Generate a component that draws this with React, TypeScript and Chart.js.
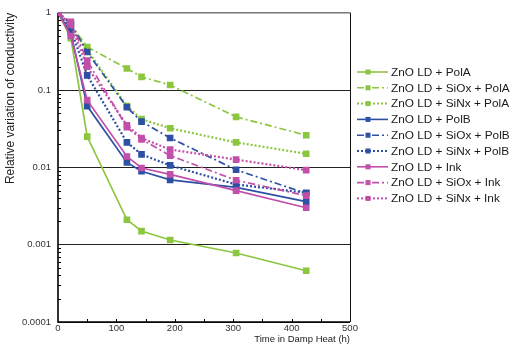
import React, { useEffect, useRef } from "react";
import { Chart, registerables } from "chart.js";

Chart.register(...registerables);

const hours = [0, 22, 50, 118, 143, 192, 305, 425];

const seriesNames = [
  "ZnO LD + PolA",
  "ZnO LD + SiOx + PolA",
  "ZnO LD + SiNx + PolA",
  "ZnO LD + PolB",
  "ZnO LD + SiOx + PolB",
  "ZnO LD + SiNx + PolB",
  "ZnO LD + Ink",
  "ZnO LD + SiOx + Ink",
  "ZnO LD + SiNx + Ink",
];

const polA = [1, 0.47, 0.025, 0.0021, 0.0015, 0.00115, 0.00078, 0.00046];
const siOxPolA = [1, 0.7, 0.36, 0.19, 0.148, 0.116, 0.045, 0.026];
const siNxPolA = [1, 0.65, 0.33, 0.062, 0.042, 0.032, 0.021, 0.015];
const polB = [1, 0.55, 0.062, 0.0116, 0.0089, 0.0069, 0.0055, 0.0036];
const siOxPolB = [1, 0.72, 0.31, 0.06, 0.039, 0.024, 0.0093, 0.0046];
const siNxPolB = [1, 0.6, 0.155, 0.021, 0.0147, 0.0106, 0.006, 0.0047];
const ink = [1, 0.5, 0.074, 0.0138, 0.0098, 0.0081, 0.005, 0.003];
const siOxInk = [1, 0.76, 0.24, 0.033, 0.023, 0.0142, 0.0068, 0.0043];
const siNxInk = [1, 0.7, 0.2, 0.035, 0.024, 0.017, 0.0126, 0.0092];

const seriesValues = [polA, siOxPolA, siNxPolA, polB, siOxPolB, siNxPolB, ink, siOxInk, siNxInk];

const yTickValues = [0.0001, 0.001, 0.01, 0.1, 1];
const xTickValues = [0, 100, 200, 300, 400, 500];

const GREEN = "#8cc63f";
const BLUE = "#2d50a4";
const PINK = "#c24fa9";
const colors = [GREEN, GREEN, GREEN, BLUE, BLUE, BLUE, PINK, PINK, PINK];
const SOLID: number[] = [];
const DASHDOT = [7, 3, 2, 3];
const DOTTED = [2, 2];
const dashes = [SOLID, DASHDOT, DOTTED, SOLID, DASHDOT, DOTTED, SOLID, DASHDOT, DOTTED];

const FONT = "'Liberation Sans', Arial, sans-serif";

const framePlugin = {
  id: "frame",
  beforeDatasetsDraw(chart: any) {
    const { ctx, chartArea: a } = chart;
    const ys = chart.scales.y;
    const xs = chart.scales.x;
    ctx.save();
    ctx.strokeStyle = "#000";
    ctx.lineWidth = 1;
    for (let e = -4; e < 0; e++) {
      for (let m = 2; m <= 9; m++) {
        const v = m * Math.pow(10, e);
        const py = Math.round(ys.getPixelForValue(v)) + 0.5;
        ctx.beginPath();
        ctx.moveTo(a.left, py);
        ctx.lineTo(a.left + 3, py);
        ctx.stroke();
      }
    }
    for (let v = 50; v < 500; v += 50) {
      const px = Math.round(xs.getPixelForValue(v)) + 0.5;
      ctx.beginPath();
      ctx.moveTo(px, a.bottom);
      ctx.lineTo(px, a.bottom - 3);
      ctx.stroke();
    }
    ctx.strokeStyle = "#777";
    ctx.lineWidth = 1.5;
    ctx.beginPath();
    ctx.moveTo(a.left, a.top);
    ctx.lineTo(a.right, a.top);
    ctx.stroke();
    ctx.strokeStyle = "#111";
    ctx.lineWidth = 1;
    ctx.beginPath();
    ctx.moveTo(a.right + 0.5, a.top);
    ctx.lineTo(a.right + 0.5, a.bottom);
    ctx.stroke();
    ctx.strokeStyle = "#000";
    ctx.lineWidth = 1.6;
    ctx.beginPath();
    ctx.moveTo(a.left, a.top);
    ctx.lineTo(a.left, a.bottom);
    ctx.lineTo(a.right, a.bottom);
    ctx.stroke();
    ctx.restore();
  },
  afterDraw(chart: any) {
    const { ctx, chartArea: a } = chart;
    ctx.save();
    const x0 = a.right + 7;
    const x1 = x0 + 31;
    const y0 = 72;
    const step = 15.8;
    ctx.font = `11.8px ${FONT}`;
    ctx.textBaseline = "middle";
    ctx.textAlign = "left";
    seriesNames.forEach((name, i) => {
      const y = y0 + i * step;
      ctx.strokeStyle = colors[i];
      ctx.lineWidth = dashes[i] === DOTTED ? 2 : 1.6;
      ctx.setLineDash(dashes[i]);
      ctx.beginPath();
      ctx.moveTo(x0, y);
      ctx.lineTo(x1, y);
      ctx.stroke();
      ctx.setLineDash([]);
      ctx.fillStyle = colors[i];
      ctx.fillRect(x0 + 11 - 2.5, y - 2.5, 5, 5);
      ctx.fillStyle = "#1a1a1a";
      ctx.fillText(name, x1 + 3, y + 0.5);
    });
    ctx.restore();
  },
};

export default function App() {
  const ref = useRef<HTMLCanvasElement | null>(null);
  useEffect(() => {
    if (!ref.current) return;
    const datasets = seriesNames.map((name, i) => ({
      label: name,
      data: hours.map((h, j) => ({ x: h, y: seriesValues[i][j] })),
      borderColor: colors[i],
      backgroundColor: colors[i],
      borderWidth: dashes[i] === DOTTED ? 2.2 : 1.7,
      borderDash: dashes[i],
      pointStyle: "rect",
      pointRadius: 4.7,
      pointBorderWidth: 0,
      pointBackgroundColor: colors[i],
      tension: 0,
      order: 8 - i,
    }));
    const chart = new Chart(ref.current, {
      type: "line",
      data: { datasets },
      plugins: [framePlugin],
      options: {
        animation: false,
        responsive: false,
        layout: { padding: { left: 0, right: 165, top: 9, bottom: 0 } },
        plugins: { legend: { display: false }, tooltip: { enabled: false } },
        scales: {
          x: {
            type: "linear",
            min: 0,
            max: 500,
            afterBuildTicks: (s: any) => {
              s.ticks = xTickValues.map((v) => ({ value: v }));
            },
            afterFit: (s: any) => {
              s.height = 32;
            },
            grid: { display: false, drawTicks: false },
            border: { display: false },
            ticks: {
              color: "#333",
              font: { size: 9.5, family: FONT },
              padding: 1,
              maxRotation: 0,
            },
            title: {
              display: true,
              text: "Time in Damp Heat (h)",
              align: "end",
              color: "#222",
              font: { size: 9.5, family: FONT },
              padding: { top: 0, bottom: 9 },
            },
          },
          y: {
            type: "logarithmic",
            min: 0.0001,
            max: 1,
            afterBuildTicks: (s: any) => {
              s.ticks = yTickValues.map((v) => ({ value: v }));
            },
            afterFit: (s: any) => {
              s.width = 58;
            },
            grid: {
              color: "#222",
              lineWidth: 1,
              drawTicks: false,
            },
            border: { display: false },
            ticks: {
              color: "#333",
              font: { size: 9.5, family: FONT },
              padding: 7,
              callback: (v: any) => String(v),
            },
            title: {
              display: true,
              text: "Relative variation of conductivity",
              align: "end",
              color: "#222",
              font: { size: 12, family: FONT },
              padding: { top: 3, bottom: 2 },
            },
          },
        },
      } as any,
    });
    return () => chart.destroy();
  }, []);
  return (
    <div style={{ position: "absolute", left: 0, top: 0, width: 515, height: 354, background: "#fff" }}>
      <canvas ref={ref} width={515} height={354} />
    </div>
  );
}
